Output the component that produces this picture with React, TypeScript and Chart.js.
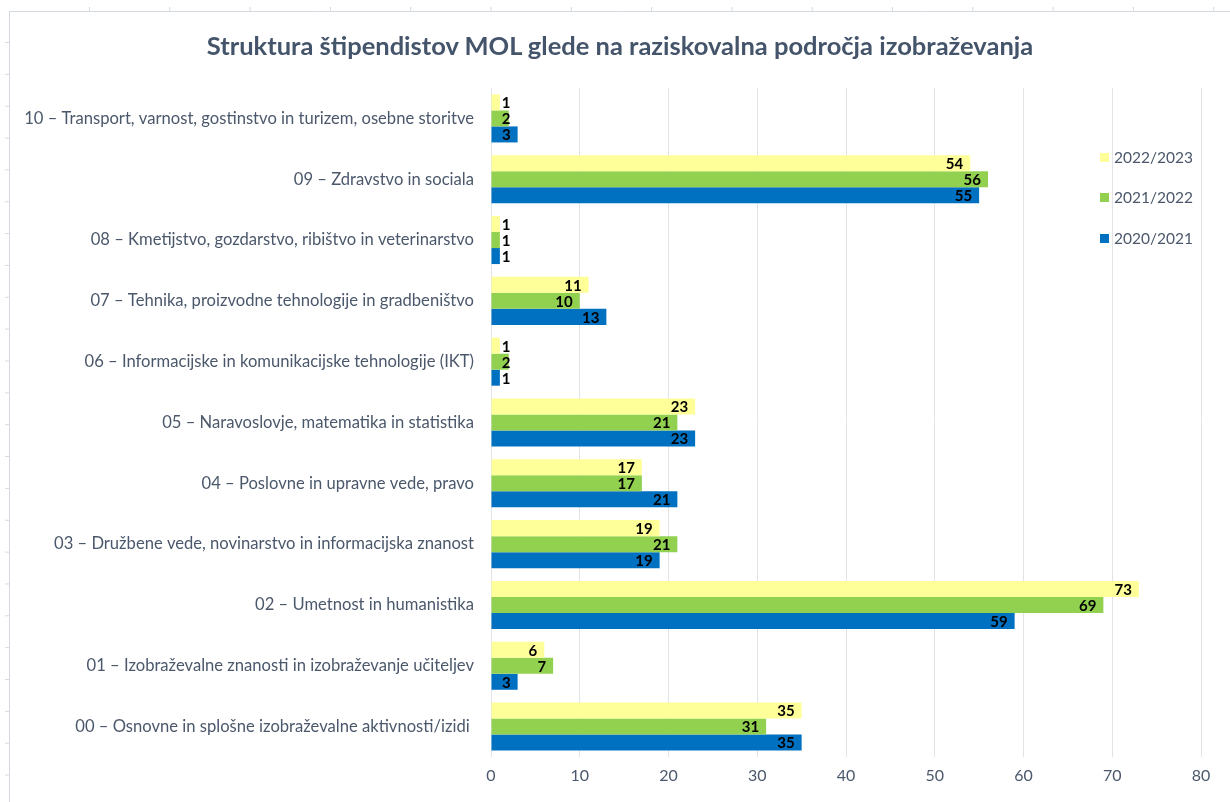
import React, { useEffect, useRef } from "react";
import { Chart, registerables } from "chart.js";

Chart.register(...registerables);

const categories: string[] = [
  "10 – Transport, varnost, gostinstvo in turizem, osebne storitve",
  "09 – Zdravstvo in sociala",
  "08 – Kmetijstvo, gozdarstvo, ribištvo in veterinarstvo",
  "07 – Tehnika, proizvodne tehnologije in gradbeništvo",
  "06 – Informacijske in komunikacijske tehnologije (IKT)",
  "05 – Naravoslovje, matematika in statistika",
  "04 – Poslovne in upravne vede, pravo",
  "03 – Družbene vede, novinarstvo in informacijska znanost",
  "02 – Umetnost in humanistika",
  "01 – Izobraževalne znanosti in izobraževanje učiteljev",
  "00 – Osnovne in splošne izobraževalne aktivnosti/izidi ",
];

const seriesNames: string[] = ["2022/2023", "2021/2022", "2020/2021"];
const values2022: number[] = [1, 54, 1, 11, 1, 23, 17, 19, 73, 6, 35];
const values2021: number[] = [2, 56, 1, 10, 2, 21, 17, 21, 69, 7, 31];
const values2020: number[] = [3, 55, 1, 13, 1, 23, 21, 19, 59, 3, 35];
const seriesColors: string[] = ["#FFFF99", "#92D050", "#0070C0"];

const xMin = 0;
const xMax = 80;
const xStep = 10;

const TITLE = "Struktura štipendistov MOL glede na raziskovalna področja izobraževanja";
const TEXT_COLOR = "#4B586B";
const TITLE_COLOR = "#44546A";
const FONT = "Lato, 'Open Sans', sans-serif";

const labelPlugin = {
  id: "barValueLabels",
  afterDatasetsDraw(chart: any) {
    const ctx = chart.ctx;
    ctx.save();
    ctx.font = `bold 15px ${FONT}`;
    ctx.fillStyle = "#000000";
    ctx.textAlign = "right";
    ctx.textBaseline = "middle";
    chart.data.datasets.forEach((ds: any, i: number) => {
      const meta = chart.getDatasetMeta(i);
      meta.data.forEach((el: any, j: number) => {
        const v = ds.data[j];
        const right = Math.max(el.x - 7, el.base + 19);
        ctx.fillText(String(v), right, el.y + 1);
      });
    });
    ctx.restore();
  },
};

const framePlugin = {
  id: "sheetFrame",
  beforeDraw(chart: any) {
    const ctx = chart.ctx;
    ctx.save();
    ctx.fillStyle = "#ffffff";
    ctx.fillRect(0, 0, chart.width, chart.height);
    ctx.strokeStyle = "#D5D9E0";
    ctx.lineWidth = 1;
    ctx.beginPath();
    ctx.moveTo(9, 11.5);
    ctx.lineTo(chart.width, 11.5);
    ctx.moveTo(9.5, 11);
    ctx.lineTo(9.5, chart.height);
    for (let x = 89.5; x < chart.width; x += 80.3) {
      ctx.moveTo(x, 7);
      ctx.lineTo(x, 11);
    }
    for (let y = 42.5; y < chart.height; y += 31.85) {
      ctx.moveTo(5, y);
      ctx.lineTo(9, y);
    }
    ctx.stroke();
    ctx.restore();
  },
};

export default function App() {
  const canvasRef = useRef<HTMLCanvasElement | null>(null);

  useEffect(() => {
    const prevMargin = document.body.style.margin;
    document.body.style.margin = "0";
    const canvas = canvasRef.current;
    if (!canvas) return;
    const seriesData = [values2022, values2021, values2020];
    const chart = new Chart(canvas, {
      type: "bar",
      data: {
        labels: categories,
        datasets: seriesNames.map((name, i) => ({
          label: name,
          data: seriesData[i],
          backgroundColor: seriesColors[i],
          borderWidth: 0,
          categoryPercentage: 0.79,
          barPercentage: 1,
        })),
      },
      options: {
        indexAxis: "y",
        responsive: false,
        animation: false,
        devicePixelRatio: 1,
        layout: { padding: { left: 0, right: 29, top: 88, bottom: 0 } },
        plugins: {
          legend: { display: false },
          tooltip: { enabled: false },
          title: { display: false },
        },
        scales: {
          x: {
            type: "linear",
            min: xMin,
            max: xMax,
            ticks: {
              stepSize: xStep,
              color: TEXT_COLOR,
              font: { family: FONT, size: 16 },
              padding: 9,
            },
            grid: { color: "#E1E3E9", lineWidth: 1, drawTicks: false },
            border: { display: false },
            afterFit(scale: any) {
              scale.height = 45;
            },
          },
          y: {
            type: "category",
            ticks: {
              color: TEXT_COLOR,
              font: { family: FONT, size: 16.6 },
              padding: 17,
              autoSkip: false,
            },
            grid: { display: false, drawTicks: false },
            border: { display: false },
            afterFit(scale: any) {
              scale.width = 491;
            },
          },
        },
      },
      plugins: [framePlugin, labelPlugin],
    } as any);
    return () => {
      chart.destroy();
      document.body.style.margin = prevMargin;
    };
  }, []);

  const legendTops = [157, 197, 238];

  return (
    <div style={{ position: "absolute", left: 0, top: 0, width: 1230, height: 802 }}>
      <canvas ref={canvasRef} width={1230} height={802} style={{ width: 1230, height: 802, display: "block" }} />
      <div
        style={{
          position: "absolute",
          left: 10,
          width: 1220,
          top: 45 - 16,
          height: 32,
          lineHeight: "32px",
          textAlign: "center",
          fontFamily: FONT,
          fontSize: 25.5,
          fontWeight: "bold",
          color: TITLE_COLOR,
          whiteSpace: "nowrap",
        }}
      >
        {TITLE}
      </div>
      {seriesNames.map((name, i) => (
        <div
          key={name}
          style={{
            position: "absolute",
            left: 1100,
            top: legendTops[i] - 10,
            height: 20,
            display: "flex",
            alignItems: "center",
            fontFamily: FONT,
            fontSize: 15.5,
            color: TEXT_COLOR,
            whiteSpace: "nowrap",
          }}
        >
          <span style={{ display: "inline-block", width: 9, height: 9, background: seriesColors[i], marginRight: 5 }} />
          {name}
        </div>
      ))}
    </div>
  );
}
